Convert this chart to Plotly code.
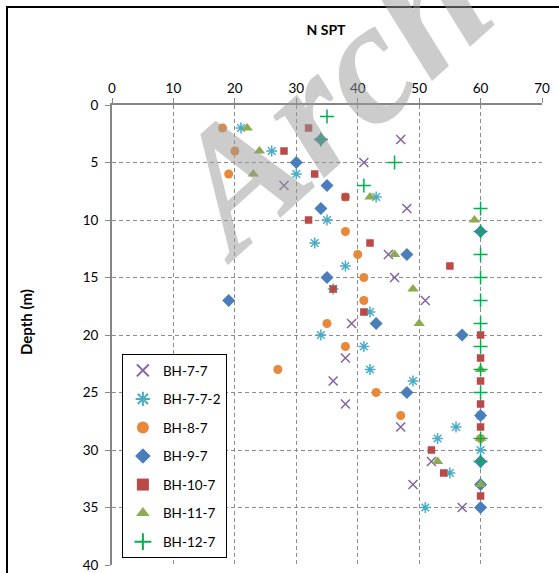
import plotly.graph_objects as go

# ---- data (N SPT vs depth) ----
bh77_n = [47, 41, 28, 48, 45, 46, 51, 39, 38, 36, 38, 47, 52, 49, 57]
bh77_d = [3, 5, 7, 9, 13, 15, 17, 19, 22, 24, 26, 28, 31, 33, 35]

bh772_n = [21, 26, 30, 43, 35, 33, 38, 36, 42, 34, 41, 42, 49, 60, 56, 53, 60, 55, 51]
bh772_d = [2, 4, 6, 8, 10, 12, 14, 16, 18, 20, 21, 23, 24, 27, 28, 29, 30, 32, 35]

bh87_n = [18, 20, 19, 38, 38, 40, 41, 41, 35, 38, 27, 43, 47, 60, 60]
bh87_d = [2, 4, 6, 8, 11, 13, 15, 17, 19, 21, 23, 25, 27, 29, 31]

bh97_n = [34, 30, 35, 34, 60, 48, 35, 19, 43, 57, 48, 60, 60, 60, 60]
bh97_d = [3, 5, 7, 9, 11, 13, 15, 17, 19, 20, 25, 27, 31, 33, 35]

bh107_n = [32, 28, 33, 38, 32, 42, 55, 36, 41, 60, 60, 60, 60, 60, 52, 54, 60]
bh107_d = [2, 4, 6, 8, 10, 12, 14, 16, 18, 20, 22, 24, 26, 28, 30, 32, 34]

bh117_n = [22, 24, 23, 42, 59, 46, 49, 50, 60, 60, 53, 60]
bh117_d = [2, 4, 6, 8, 10, 13, 16, 19, 23, 29, 31, 33]

bh127_n = [35, 34, 46, 41, 60, 60, 60, 60, 60, 60, 60, 60, 60, 60, 60]
bh127_d = [1, 3, 5, 7, 9, 11, 13, 15, 17, 19, 21, 23, 25, 29, 31]

x_ticks = [0, 10, 20, 30, 40, 50, 60, 70]
y_ticks = [0, 5, 10, 15, 20, 25, 30, 35, 40]

series = [
    ("BH-7-7", bh77_n, bh77_d, dict(symbol="x-thin-open", size=9, color="#8064A2", line=dict(width=1.5, color="#8064A2"))),
    ("BH-7-7-2", bh772_n, bh772_d, dict(symbol="asterisk-open", size=9, color="#4BACC6", line=dict(width=1.5, color="#4BACC6"))),
    ("BH-8-7", bh87_n, bh87_d, dict(symbol="circle", size=9, color="#E8883A")),
    ("BH-9-7", bh97_n, bh97_d, dict(symbol="diamond", size=10, color="#4A7EBB")),
    ("BH-10-7", bh107_n, bh107_d, dict(symbol="square", size=7.5, color="#B94A48")),
    ("BH-11-7", bh117_n, bh117_d, dict(symbol="triangle-up", size=10, color="#8CAA4E")),
    ("BH-12-7", bh127_n, bh127_d, dict(symbol="cross-thin-open", size=10, color="#00B050", line=dict(width=1.5, color="#00B050"))),
]

fig = go.Figure()
for name, xs, ys, mk in series:
    fig.add_trace(go.Scatter(x=xs, y=ys, mode="markers", name=name, marker=mk, legendgroup=name))

fig.update_layout(
    width=559, height=573,
    margin=dict(l=112, r=17, t=105, b=8),
    paper_bgcolor="white", plot_bgcolor="white",
    font=dict(family="Lato, Open Sans, sans-serif", size=13, color="black"),
    title=dict(text="<b>N SPT</b>", x=326 / 559, xanchor="center", y=1 - 30 / 573, yanchor="middle",
               font=dict(size=14, family="Lato, Open Sans, sans-serif")),
    showlegend=True,
    legend=dict(x=0.023, y=0.4585, xanchor="left", yanchor="top",
                bordercolor="black", borderwidth=1, bgcolor="white",
                font=dict(size=13.5), itemsizing="constant", tracegroupgap=8),
)
fig.update_xaxes(
    side="top", range=[0, 70], tickvals=x_ticks, ticks="outside", ticklen=5,
    tickcolor="#868686", showline=True, linecolor="#868686", linewidth=2,
    showgrid=True, gridcolor="#8c8c8c", griddash="4px,3px", gridwidth=1, zeroline=False,
    automargin=False, tickfont=dict(size=13.5),
)
fig.update_yaxes(
    range=[40, 0], tickvals=y_ticks, ticks="outside", ticklen=5,
    tickcolor="#868686", showline=True, linecolor="#868686", linewidth=2,
    showgrid=True, gridcolor="#8c8c8c", griddash="4px,3px", gridwidth=1, zeroline=False,
    automargin=False, ticklabelstandoff=4, tickfont=dict(size=13.5),
)

# y-axis title placed like the reference
fig.add_annotation(text="<b>Depth (m)</b>", xref="paper", yref="paper",
                   x=(26 - 112) / 430, y=(565 - 322) / 460, xanchor="center", yanchor="middle",
                   showarrow=False, textangle=-90, font=dict(size=15))

# outer chart border
fig.add_shape(type="rect", xref="paper", yref="paper",
              x0=(7 - 112) / 430, x1=1.2, y0=-0.2, y1=(565 - 7) / 460,
              line=dict(color="black", width=2), layer="below")

# watermark
fig.add_annotation(text="Arch", xref="paper", yref="paper",
                   x=(325 - 112) / 430, y=(565 - 98) / 460, xanchor="center", yanchor="middle",
                   showarrow=False, textangle=-42, opacity=0.5,
                   font=dict(family="Liberation Serif", size=175, color="#9a9a9a",
                             weight="bold", style="italic"))

fig.write_html("out.html")
